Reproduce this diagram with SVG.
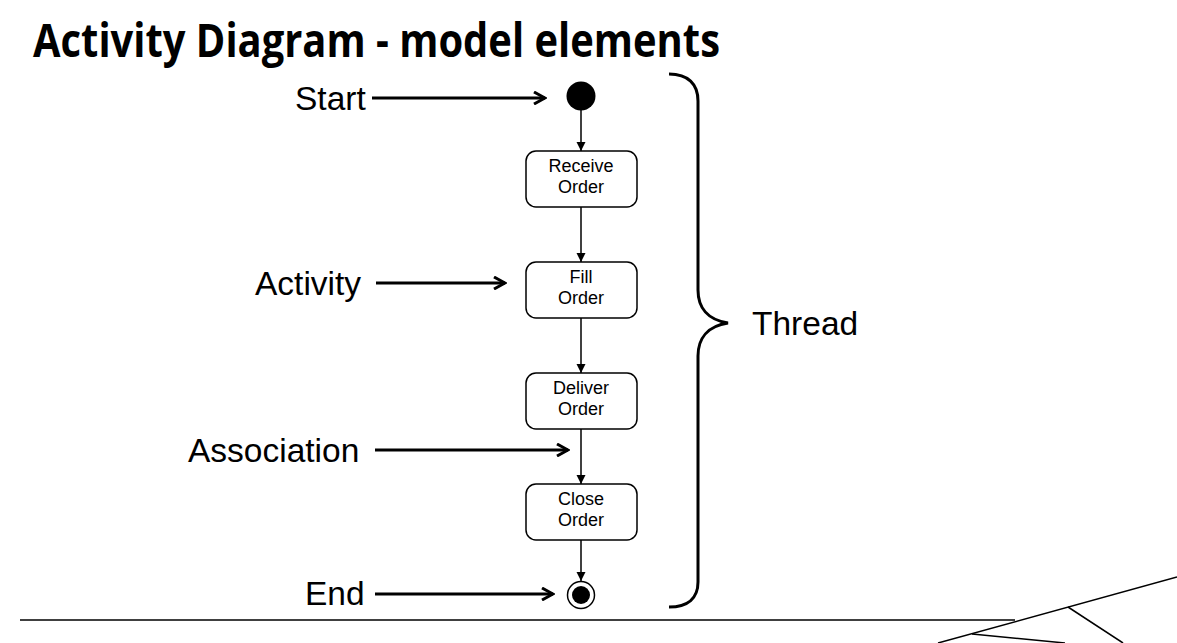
<svg xmlns="http://www.w3.org/2000/svg" width="1177" height="643" viewBox="0 0 1177 643">
<defs>
<style>
.lbl{font-family:"Liberation Sans",Arial,sans-serif;font-size:33.5px;fill:#000}
.nt{font-family:"Liberation Sans",Arial,sans-serif;font-size:18px;fill:#000;text-anchor:middle}
.box{fill:#fff;stroke:#000;stroke-width:1.5}
.ptr{fill:none;stroke:#000;stroke-width:3}
.flow{fill:none;stroke:#000;stroke-width:1.5}
.thin{fill:none;stroke:#000;stroke-width:1.5}
</style>
<marker id="open" viewBox="0 0 14 14" refX="12" refY="7" markerWidth="14" markerHeight="14" markerUnits="userSpaceOnUse" orient="auto">
<path d="M1,1 L12,7 L1,13" fill="none" stroke="#000" stroke-width="3"/>
</marker>
<marker id="tri" viewBox="0 0 10 10" refX="10" refY="5" markerWidth="9" markerHeight="10" markerUnits="userSpaceOnUse" orient="auto">
<path d="M0,0 L10,5 L0,10 Z" fill="#000"/>
</marker>
</defs>
<rect width="1177" height="643" fill="#fff"/>
<text x="33" y="57" font-family="'Open Sans',sans-serif" font-weight="bold" font-size="46" textLength="687" lengthAdjust="spacingAndGlyphs">Activity Diagram - model elements</text>

<g id="start"><circle cx="581" cy="96" r="14.5" fill="#000"/></g>
<g id="receive"><rect class="box" x="526" y="151" width="111" height="56" rx="10"/><text class="nt" x="581" y="172">Receive</text><text class="nt" x="581" y="193">Order</text></g>
<g id="fill"><rect class="box" x="526" y="262" width="111" height="56" rx="10"/><text class="nt" x="581" y="283">Fill</text><text class="nt" x="581" y="304">Order</text></g>
<g id="deliver"><rect class="box" x="526" y="373" width="111" height="56" rx="10"/><text class="nt" x="581" y="394">Deliver</text><text class="nt" x="581" y="415">Order</text></g>
<g id="close"><rect class="box" x="526" y="484" width="111" height="56" rx="10"/><text class="nt" x="581" y="505">Close</text><text class="nt" x="581" y="526">Order</text></g>
<g id="end"><circle cx="581" cy="595" r="13.5" fill="#fff" stroke="#000" stroke-width="1.5"/><circle cx="581" cy="595" r="9" fill="#000"/></g>

<g id="connectors">
<line class="flow" x1="581" y1="110" x2="581" y2="151" marker-end="url(#tri)"/>
<line class="flow" x1="581" y1="207" x2="581" y2="262" marker-end="url(#tri)"/>
<line class="flow" x1="581" y1="318" x2="581" y2="373" marker-end="url(#tri)"/>
<line class="flow" x1="581" y1="429" x2="581" y2="484" marker-end="url(#tri)"/>
<line class="flow" x1="581" y1="540" x2="581" y2="581" marker-end="url(#tri)"/>
</g>

<g id="labels">
<text class="lbl" x="295" y="110">Start</text>
<line class="ptr" x1="372" y1="98" x2="545" y2="98" marker-end="url(#open)"/>
<text class="lbl" x="255" y="295">Activity</text>
<line class="ptr" x1="376" y1="283" x2="505" y2="283" marker-end="url(#open)"/>
<text class="lbl" x="188" y="462">Association</text>
<line class="ptr" x1="375" y1="450" x2="568" y2="450" marker-end="url(#open)"/>
<text class="lbl" x="305" y="605">End</text>
<line class="ptr" x1="375" y1="594" x2="553" y2="594" marker-end="url(#open)"/>
</g>

<g id="thread">
<path class="ptr" d="M669,74 C688,74 698,84 698,101 L698,290 C698,308 708,320 728,323 C708,326 698,338 698,356 L698,582 C698,598 688,607 669,607"/>
<text class="lbl" x="752" y="335">Thread</text>
</g>

<g id="decor">
<line class="thin" x1="20" y1="620" x2="1015" y2="620"/>
<line class="thin" x1="938" y1="643" x2="1177" y2="577"/>
<line class="thin" x1="972" y1="634" x2="1065" y2="643"/>
<line class="thin" x1="1068" y1="607" x2="1123" y2="643"/>
</g>
</svg>
